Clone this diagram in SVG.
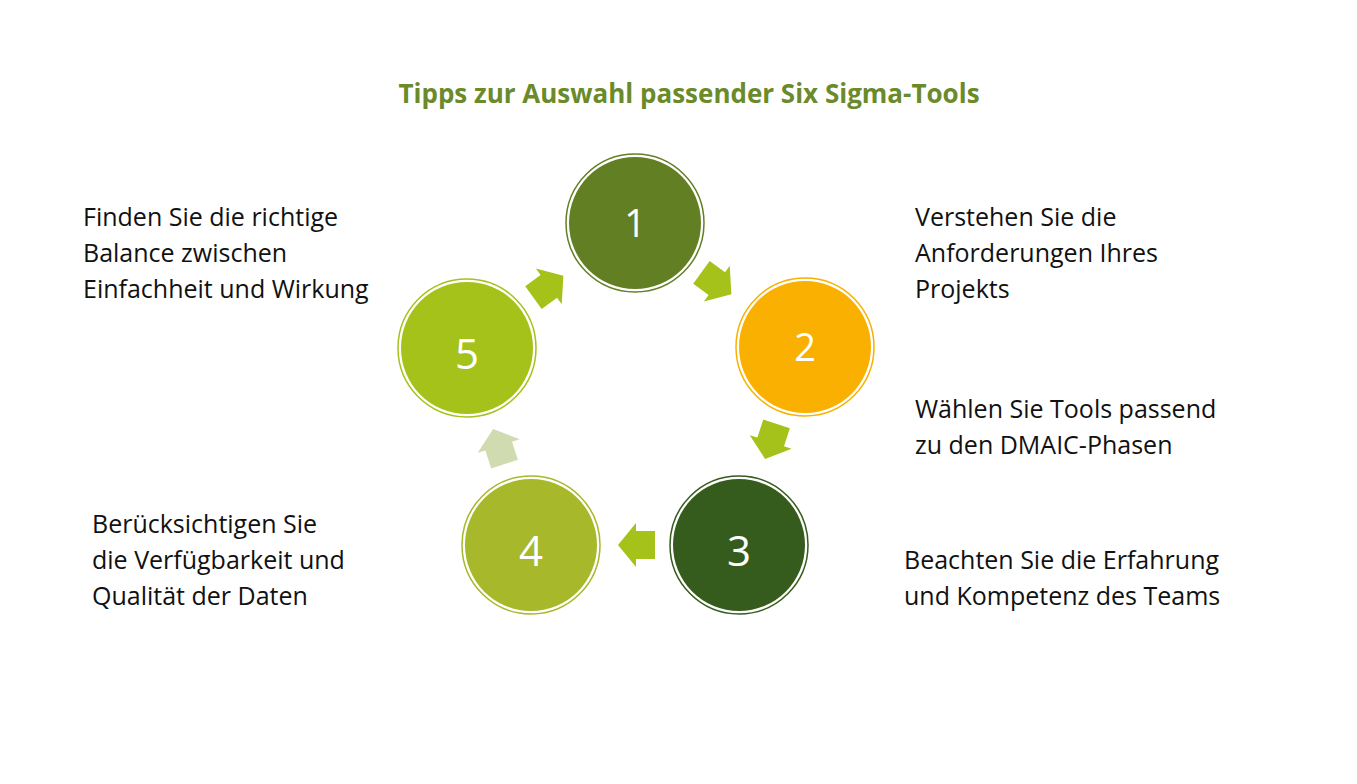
<svg xmlns="http://www.w3.org/2000/svg" width="1357" height="784" viewBox="0 0 1357 784">
<style>
.t{font-family:"Open Sans","Liberation Sans",sans-serif;font-size:25px;fill:#111}
.n{font-family:"Open Sans","Liberation Sans",sans-serif;font-size:38px;fill:#fff;text-anchor:middle}
.ring{fill:none;stroke-width:1.5}
.ar{fill:#a5c21a}
</style>
<defs><path id="arr" d="M-18,-14 L1,-14 L1,-22 L19,0 L1,22 L1,14 L-18,14 Z"/></defs>
<rect width="1357" height="784" fill="#fff"/>
<text x="689" y="103" text-anchor="middle" style="font-family:'Open Sans','Liberation Sans',sans-serif;font-size:26px;font-weight:bold;fill:#6b8a2a">Tipps zur Auswahl passender Six Sigma-Tools</text>
<g id="connectors">
<use href="#arr" class="ar" transform="translate(716,283) rotate(36)"/>
<use href="#arr" class="ar" transform="translate(771,441) rotate(108)"/>
<use href="#arr" class="ar" transform="translate(637,545) rotate(180)"/>
<use href="#arr" fill="#d0dbaf" transform="translate(499,447) rotate(-108)"/>
<use href="#arr" class="ar" transform="translate(548,287) rotate(-36)"/>
</g>
<g id="n1"><circle cx="635" cy="223" r="69" class="ring" stroke="#637f24"/><circle cx="635" cy="223" r="66" fill="#637f24"/><text x="635" y="237" class="n">1</text></g>
<g id="n2"><circle cx="805" cy="347" r="69" class="ring" stroke="#f9b000"/><circle cx="805" cy="347" r="66" fill="#f9b000"/><text x="805" y="361" class="n">2</text></g>
<g id="n3"><circle cx="739" cy="545" r="69" class="ring" stroke="#355c1c"/><circle cx="739" cy="545" r="66" fill="#355c1c"/><text x="739" y="566" class="n" style="font-size:42px">3</text></g>
<g id="n4"><circle cx="531" cy="545" r="69" class="ring" stroke="#a7b82a"/><circle cx="531" cy="545" r="66" fill="#a7b82a"/><text x="531" y="566" class="n" style="font-size:42px">4</text></g>
<g id="n5"><circle cx="467" cy="348" r="69" class="ring" stroke="#a5c21a"/><circle cx="467" cy="348" r="66" fill="#a5c21a"/><text x="467" y="369" class="n" style="font-size:42px">5</text></g>
<g id="labels">
<text class="t" x="915" y="226">Verstehen Sie die</text>
<text class="t" x="915" y="262">Anforderungen Ihres</text>
<text class="t" x="915" y="298">Projekts</text>
<text class="t" x="915" y="418">Wählen Sie Tools passend</text>
<text class="t" x="915" y="454">zu den DMAIC-Phasen</text>
<text class="t" x="904" y="569">Beachten Sie die Erfahrung</text>
<text class="t" x="904" y="605">und Kompetenz des Teams</text>
<text class="t" x="92" y="533">Berücksichtigen Sie</text>
<text class="t" x="92" y="569">die Verfügbarkeit und</text>
<text class="t" x="92" y="605">Qualität der Daten</text>
<text class="t" x="83" y="226">Finden Sie die richtige</text>
<text class="t" x="83" y="262">Balance zwischen</text>
<text class="t" x="83" y="298">Einfachheit und Wirkung</text>
</g>
</svg>
